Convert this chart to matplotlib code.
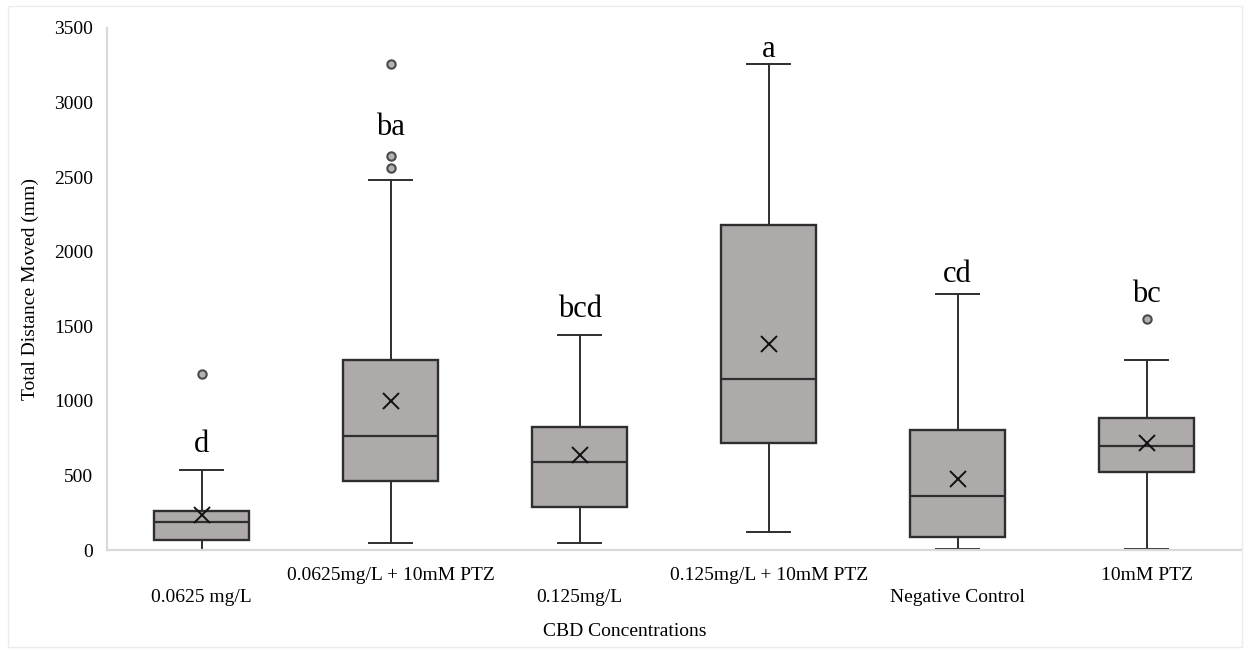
import matplotlib
matplotlib.use("Agg")
import matplotlib.pyplot as plt
import matplotlib.transforms as mtransforms
from matplotlib.patches import Rectangle

# ── Data ─────────────────────────────────────────────────────────────────────
GROUPS  = ["0.0625 mg/L", "0.0625mg/L + 10mM PTZ", "0.125mg/L",
           "0.125mg/L + 10mM PTZ", "Negative Control", "10mM PTZ"]
Q1      = [67, 465, 286, 716, 89, 525]
MEDIAN  = [186, 767, 592, 1145, 364, 700]
Q3      = [265, 1274, 823, 2178, 805, 883]
MEAN    = [235, 1000, 637, 1382, 476, 716]
WHI_LO  = [0, 49, 49, 119, 7, 7]
WHI_HI  = [539, 2482, 1440, 3258, 1715, 1274]
FLIERS  = [[1183], [2560, 2643, 3258], [], [], [], [1549]]
LETTERS = ["d", "ba", "bcd", "a", "cd", "bc"]
LETTER_Y = [657, 2783, 1565, 3308, 1800, 1661]   # baseline of the letters

SERIF = ["Liberation Serif", "DejaVu Serif"]
plt.rcParams["font.family"] = SERIF

BOX_FILL = "#aeaaa9"
EDGE     = "#2e2e2e"
AXIS_CLR = "#d9d9d9"

fig = plt.figure(figsize=(12.5, 6.5), dpi=100)
ax = fig.add_axes([0.0856, 0.1538, 0.9074, 0.8032])

stats = []
for i in range(len(GROUPS)):
    stats.append({
        "label": GROUPS[i], "q1": Q1[i], "med": MEDIAN[i], "q3": Q3[i],
        "mean": MEAN[i], "whislo": WHI_LO[i], "whishi": WHI_HI[i],
        "fliers": FLIERS[i],
    })

pos = list(range(1, len(GROUPS) + 1))
ax.bxp(stats, positions=pos, widths=0.5, showmeans=True, patch_artist=True,
       boxprops=dict(facecolor=BOX_FILL, edgecolor=EDGE, linewidth=1.7),
       medianprops=dict(color=EDGE, linewidth=1.6),
       whiskerprops=dict(color=EDGE, linewidth=1.4),
       capprops=dict(color=EDGE, linewidth=1.4),
       capwidths=0.23,
       meanprops=dict(marker="x", markeredgecolor="#111111", markersize=11,
                      markeredgewidth=1.4),
       flierprops=dict(marker="o", markerfacecolor="#b4b1b0",
                       markeredgecolor="#4a4a4a", markersize=6,
                       markeredgewidth=1.5),
       zorder=1)

for x, y, t in zip(pos, LETTER_Y, LETTERS):
    ax.text(x, y, t, ha="center", va="baseline", fontsize=22, color="black")

ax.set_xlim(0.5, 6.5)
ax.set_ylim(0, 3500)
ax.set_yticks(range(0, 3501, 500))
ax.tick_params(axis="y", length=0, labelsize=14, pad=10)
ax.set_xticks([])

for s in ["top", "right"]:
    ax.spines[s].set_visible(False)
for s in ["left", "bottom"]:
    ax.spines[s].set_color(AXIS_CLR)
    ax.spines[s].set_linewidth(1.6)
    ax.spines[s].set_zorder(5)

# staggered category labels
trans = mtransforms.blended_transform_factory(ax.transData, ax.transAxes)
for i, (x, lab) in enumerate(zip(pos, GROUPS)):
    off = -47 if i % 2 == 0 else -25
    ax.annotate(lab, xy=(x, 0), xycoords=trans, xytext=(0, off),
                textcoords="offset pixels", ha="center", va="center",
                fontsize=14)

fig.text(0.5, 1 - 632 / 650, "CBD Concentrations", ha="center", va="center",
         fontsize=14)
fig.text(30 / 1250, 1 - 289 / 650, "Total Distance Moved (mm)",
         rotation=90, ha="center", va="center", fontsize=14)

# faint outer frame
fig.patches.append(Rectangle((8 / 1250, 3 / 650), 1 - 16 / 1250, 1 - 9 / 650,
                             transform=fig.transFigure, fill=False,
                             edgecolor="#ececec", linewidth=1))

fig.savefig("out.png", dpi=100)
